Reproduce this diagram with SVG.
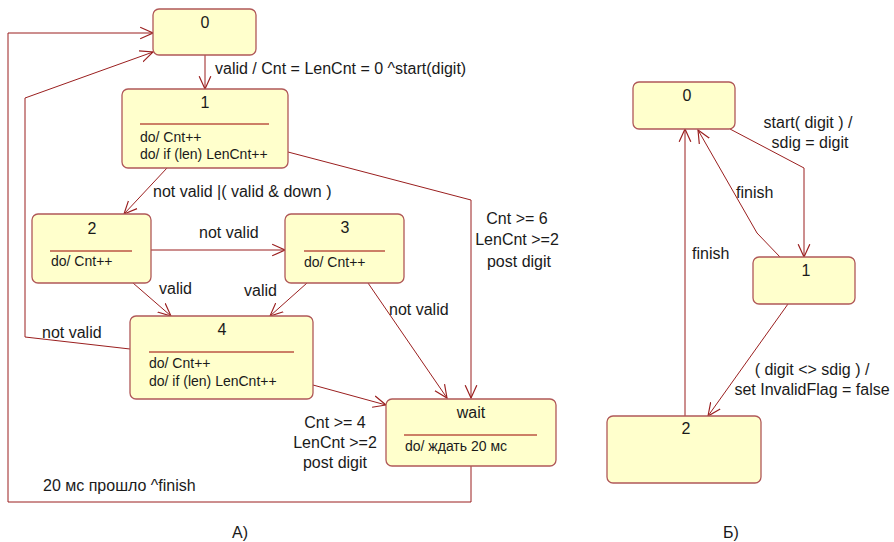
<svg xmlns="http://www.w3.org/2000/svg" width="894" height="542" viewBox="0 0 894 542">
<style>
.n{fill:#FFFFCC;stroke:#B05858;stroke-width:1.3}
.sep{stroke:#990000;stroke-width:1}
.t{font-family:"Liberation Sans",Arial,sans-serif;font-size:16px;fill:#1a1a1a}
.s{font-family:"Liberation Sans",Arial,sans-serif;font-size:14px;fill:#1a1a1a}
.m{text-anchor:middle}
.e{fill:none;stroke:#9A1F1F;stroke-width:1}
</style>
<defs>
<marker id="arr" markerUnits="userSpaceOnUse" markerWidth="14" markerHeight="14" viewBox="0 0 12 12" refX="11" refY="6" orient="auto">
<path d="M0,1 L11,6 L0,11" fill="none" stroke="#9A1F1F" stroke-width="1"/>
</marker>
</defs>
<rect width="894" height="542" fill="#ffffff"/>
<g id="connectors">
<path class="e" d="M205,55 V89" marker-end="url(#arr)"/>
<path class="e" d="M167,168 L124,214" marker-end="url(#arr)"/>
<path class="e" d="M151,250 H285" marker-end="url(#arr)"/>
<path class="e" d="M133,283 L171,316" marker-end="url(#arr)"/>
<path class="e" d="M307,283 L270,316" marker-end="url(#arr)"/>
<path class="e" d="M368,283 L447,398" marker-end="url(#arr)"/>
<path class="e" d="M288,152 L471,200 V398" marker-end="url(#arr)"/>
<path class="e" d="M313,385 L386,405" marker-end="url(#arr)"/>
<path class="e" d="M130,349 L25,337 V98 L153,52" marker-end="url(#arr)"/>
<path class="e" d="M471,466 V502 H8 V33 H153" marker-end="url(#arr)"/>
<path class="e" d="M730,129 L804,168 V257" marker-end="url(#arr)"/>
<path class="e" d="M780,257 L757,233 L698,130" marker-end="url(#arr)"/>
<path class="e" d="M685,416 V129" marker-end="url(#arr)"/>
<path class="e" d="M788,304 L708,416" marker-end="url(#arr)"/>
<text class="t" x="215" y="74">valid / Cnt = LenCnt = 0 ^start(digit)</text>
<text class="t" x="153" y="197">not valid |( valid &amp; down )</text>
<text class="t" x="199" y="238">not valid</text>
<text class="t" x="159" y="294">valid</text>
<text class="t" x="244" y="296">valid</text>
<text class="t" x="42" y="338">not valid</text>
<text class="t" x="389" y="315">not valid</text>
<text class="t m" x="517" y="224">Cnt &gt;= 6</text>
<text class="t m" x="517" y="245">LenCnt &gt;=2</text>
<text class="t m" x="519" y="267">post digit</text>
<text class="t m" x="335" y="428">Cnt &gt;= 4</text>
<text class="t m" x="335" y="448">LenCnt &gt;=2</text>
<text class="t m" x="335" y="468">post digit</text>
<text class="t" x="43" y="491">20 мс прошло ^finish</text>
<text class="t m" x="808" y="128">start( digit ) /</text>
<text class="t m" x="810" y="148">sdig = digit</text>
<text class="t" x="736" y="198">finish</text>
<text class="t" x="692" y="259">finish</text>
<text class="t m" x="812" y="375">( digit &lt;&gt; sdig ) /</text>
<text class="t m" x="812" y="395">set InvalidFlag = false</text>
</g>
<g id="nA0">
<rect class="n" x="153" y="9" width="103" height="46" rx="6"/>
<text class="t m" x="205" y="28">0</text>
</g>
<g id="nA1">
<rect class="n" x="122" y="89" width="166" height="79" rx="6"/>
<text class="t m" x="205" y="108">1</text>
<line class="sep" x1="140" y1="124" x2="269" y2="124"/>
<text class="s" x="140" y="142">do/ Cnt++</text>
<text class="s" x="140" y="159">do/ if (len) LenCnt++</text>
</g>
<g id="nA2">
<rect class="n" x="32" y="214" width="119" height="69" rx="6"/>
<text class="t m" x="92" y="234">2</text>
<line class="sep" x1="50" y1="251" x2="132" y2="251"/>
<text class="s" x="51" y="266">do/ Cnt++</text>
</g>
<g id="nA3">
<rect class="n" x="285" y="214" width="119" height="69" rx="6"/>
<text class="t m" x="345" y="233">3</text>
<line class="sep" x1="304" y1="251" x2="385" y2="251"/>
<text class="s" x="304" y="267">do/ Cnt++</text>
</g>
<g id="nA4">
<rect class="n" x="130" y="316" width="183" height="83" rx="6"/>
<text class="t m" x="222" y="335">4</text>
<line class="sep" x1="149" y1="352" x2="294" y2="352"/>
<text class="s" x="149" y="368">do/ Cnt++</text>
<text class="s" x="149" y="386">do/ if (len) LenCnt++</text>
</g>
<g id="nAwait">
<rect class="n" x="386" y="399" width="170" height="67" rx="6"/>
<text class="t m" x="471" y="418">wait</text>
<line class="sep" x1="404" y1="435" x2="537" y2="435"/>
<text class="s" x="405" y="451">do/ ждать 20 мс</text>
</g>
<g id="nB0">
<rect class="n" x="633" y="82" width="102" height="47" rx="6"/>
<text class="t m" x="687" y="101">0</text>
</g>
<g id="nB1">
<rect class="n" x="753" y="257" width="102" height="47" rx="6"/>
<text class="t m" x="806" y="276">1</text>
</g>
<g id="nB2">
<rect class="n" x="607" y="416" width="154" height="67" rx="6"/>
<text class="t m" x="686" y="434">2</text>
</g>
<text class="t m" x="240" y="538">А)</text>
<text class="t m" x="731" y="538">Б)</text>
</svg>
